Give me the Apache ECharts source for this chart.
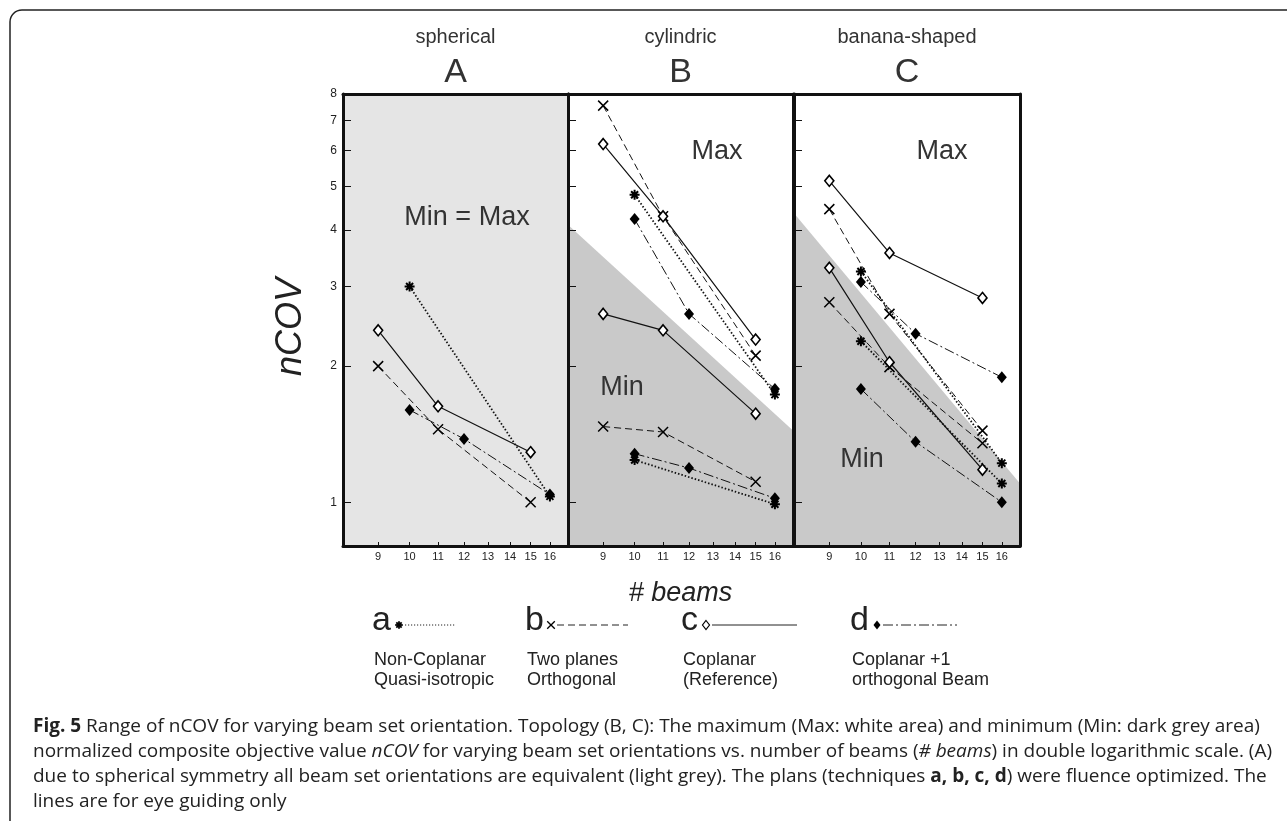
<!DOCTYPE html>
<html>
<head>
<meta charset="utf-8">
<script src="https://cdn.jsdelivr.net/npm/echarts@6/dist/echarts.min.js"></script>
<style>
html,body{margin:0;padding:0;background:#fff}
#chart{width:1287px;height:821px}
</style>
</head>
<body>
<div id="chart"></div>
<script>
// number of beams per technique
var beamsA=[10,16];        // a: non-coplanar quasi-isotropic
var beamsBC=[9,11,15];     // b: two planes, c: coplanar
var beamsD=[10,12,16];     // d: coplanar +1 orthogonal beam
var xTicks=[9,10,11,12,13,14,15,16];
var yTicks=[1,2,3,4,5,6,7,8];
var shadeX=[8,17];

// A spherical (min = max)
var aA=[3.0,1.03], bA=[2.0,1.45,1.0], cA=[2.4,1.63,1.29], dA=[1.6,1.38,1.04];
// B cylindric
var aBmax=[4.79,1.73], bBmax=[7.54,4.29,2.11], cBmax=[6.2,4.29,2.29], dBmax=[4.23,2.61,1.78];
var aBmin=[1.24,0.99], bBmin=[1.47,1.43,1.11], cBmin=[2.61,2.4,1.57], dBmin=[1.28,1.19,1.02];
// C banana-shaped
var aCmax=[3.24,1.22], bCmax=[4.45,2.61,1.44], cCmax=[5.14,3.56,2.83], dCmax=[3.07,2.36,1.89];
var aCmin=[2.27,1.10], bCmin=[2.77,1.99,1.35], cCmin=[3.30,2.04,1.18], dCmin=[1.78,1.36,1.0];
// border of the dark grey (min) area
var shadeB=[4.11,1.44], shadeC=[4.36,1.10];

var chart=echarts.init(document.getElementById('chart'));
var FONT='Liberation Sans';
var panels=[{left:343,width:225},{left:568,width:225},{left:794,width:226}];
var TOP=94, H=452;

var starPath='path://M5,0L5,10M0,5L10,5M1.5,1.5L8.5,8.5M8.5,1.5L1.5,8.5';
var crossPath='path://M0,0L10,10M10,0L0,10';
var tech={
    a:{symbol:starPath,size:10,item:{color:'#000',borderColor:'#000',borderWidth:2},line:{color:'#111',width:1.8,type:[1.5,2]}},
    b:{symbol:crossPath,size:10,item:{color:'#000',borderColor:'#000',borderWidth:1.5},line:{color:'#111',width:1,type:[7,4]}},
    c:{symbol:'diamond',size:[9,11],item:{color:'#fff',borderColor:'#000',borderWidth:1.6},line:{color:'#111',width:1.2,type:'solid'}},
    d:{symbol:'diamond',size:[10,12],item:{color:'#000',borderColor:'#000',borderWidth:0},line:{color:'#111',width:1,type:[10,3,2,3]}}
};
var beamsOf={a:beamsA,b:beamsBC,c:beamsBC,d:beamsD};

function pts(xs,ys){
    return xs.map(function(x,i){return [x,ys[i]];});
}
function ser(t,g,ys){
    var s=tech[t];
    return {type:'line',xAxisIndex:g*2,yAxisIndex:g*2,data:pts(beamsOf[t],ys),
        symbol:s.symbol,symbolSize:s.size,showAllSymbol:true,itemStyle:s.item,lineStyle:s.line,
        z:4,silent:true,clip:false};
}
function shade(g,ys){
    return {type:'line',xAxisIndex:g*2,yAxisIndex:g*2,data:pts(shadeX,ys),symbol:'none',
        lineStyle:{width:0},areaStyle:{color:'#c9c9c9',opacity:1,origin:'start'},z:1,silent:true};
}

function xAx(g,pos){
    var main=pos==='bottom';
    var o={type:'log',gridIndex:g,position:pos,min:8,max:17,z:10,
        axisLine:{show:true,onZero:false,lineStyle:{color:'#111',width:3}},
        axisTick:{show:main,inside:true,length:4,customValues:xTicks,lineStyle:{color:'#111',width:1}},
        axisLabel:{show:main,customValues:xTicks,fontSize:11,color:'#222',margin:5,fontFamily:FONT},
        splitLine:{show:false},minorTick:{show:false}};
    if(main&&g===1){
        o.name='# beams';o.nameLocation='middle';o.nameGap=34;
        o.nameTextStyle={fontSize:27,fontStyle:'italic',color:'#222',fontFamily:FONT};
    }
    return o;
}
function yAx(g,pos){
    var main=pos==='left';
    return {type:'log',gridIndex:g,position:pos,min:0.8,max:8,z:10,
        axisLine:{show:true,onZero:false,lineStyle:{color:'#111',width:3}},
        axisTick:{show:main,inside:true,length:8,customValues:yTicks,lineStyle:{color:'#111',width:1}},
        axisLabel:{show:main&&g===0,customValues:yTicks,fontSize:12,color:'#222',margin:6,fontFamily:FONT},
        splitLine:{show:false},minorTick:{show:false}};
}

var grids=panels.map(function(p,i){
    return {left:p.left,top:TOP,width:p.width,height:H,show:i===0,backgroundColor:'#e5e5e5',borderWidth:0};
});
var xAxes=[],yAxes=[];
for(var g=0;g<3;g++){
    xAxes.push(xAx(g,'bottom'));xAxes.push(xAx(g,'top'));
    yAxes.push(yAx(g,'left'));yAxes.push(yAx(g,'right'));
}

var series=[
    shade(1,shadeB),shade(2,shadeC),
    ser('a',0,aA),ser('b',0,bA),ser('c',0,cA),ser('d',0,dA),
    ser('a',1,aBmax),ser('b',1,bBmax),ser('c',1,cBmax),ser('d',1,dBmax),
    ser('a',1,aBmin),ser('b',1,bBmin),ser('c',1,cBmin),ser('d',1,dBmin),
    ser('a',2,aCmax),ser('b',2,bCmax),ser('c',2,cCmax),ser('d',2,dCmax),
    ser('a',2,aCmin),ser('b',2,bCmin),ser('c',2,cCmin),ser('d',2,dCmin)
];

// texts and legend
function txt(x,y,text,size,extra){
    var st={text:text,fontSize:size,fontFamily:FONT,fill:'#222',align:'center',verticalAlign:'middle'};
    for(var k in extra){st[k]=extra[k];}
    return {type:'text',x:x,y:y,style:st,z:20};
}
var graphic=[
    {type:'rect',shape:{x:10,y:10,width:1290,height:840,r:12},style:{fill:'none',stroke:'#222',lineWidth:1.5},z:0}
];
var names=['spherical','cylindric','banana-shaped'], letters=['A','B','C'];
panels.forEach(function(p,i){
    var cx=p.left+p.width/2;
    graphic.push(txt(cx,37,names[i],20,{fill:'#333'}));
    graphic.push(txt(cx,73,letters[i],34,{fill:'#333'}));
});
var nc=txt(291,327,'nCOV',36,{fontStyle:'italic'});
nc.rotation=Math.PI/2;
graphic.push(nc);
graphic.push(txt(467,218,'Min = Max',27,{fill:'#333'}));
graphic.push(txt(717,152,'Max',27,{fill:'#333'}));
graphic.push(txt(622,388,'Min',27,{fill:'#333'}));
graphic.push(txt(942,152,'Max',27,{fill:'#333'}));
graphic.push(txt(862,460,'Min',27,{fill:'#333'}));

var legendY=625;
var legendItems=[
    {key:'a',x:372,mk:399,line:[405,456],l1:'Non-Coplanar',l2:'Quasi-isotropic'},
    {key:'b',x:525,mk:551,line:[557,628],l1:'Two planes',l2:'Orthogonal'},
    {key:'c',x:681,mk:706,line:[712,797],l1:'Coplanar',l2:'(Reference)'},
    {key:'d',x:850,mk:877,line:[883,957],l1:'Coplanar +1',l2:'orthogonal Beam'}
];
function marker(key,cx,cy){
    var out=[],r=3.8;
    if(key==='a'){
        [[0,-1],[1,0],[0.7,0.7],[0.7,-0.7]].forEach(function(d){
            out.push({type:'line',shape:{x1:cx-d[0]*r,y1:cy-d[1]*r,x2:cx+d[0]*r,y2:cy+d[1]*r},style:{stroke:'#000',lineWidth:1.8},z:21});
        });
    }else if(key==='b'){
        [[1,1],[1,-1]].forEach(function(d){
            out.push({type:'line',shape:{x1:cx-d[0]*r,y1:cy-d[1]*r,x2:cx+d[0]*r,y2:cy+d[1]*r},style:{stroke:'#000',lineWidth:1.3},z:21});
        });
    }else{
        out.push({type:'polygon',shape:{points:[[cx,cy-4.5],[cx+3.5,cy],[cx,cy+4.5],[cx-3.5,cy]]},
            style:{fill:key==='c'?'#fff':'#000',stroke:'#000',lineWidth:key==='c'?1.2:0},z:21});
    }
    return out;
}
legendItems.forEach(function(it){
    var s=tech[it.key];
    graphic.push(txt(it.x,legendY-4,it.key,34,{align:'left'}));
    graphic.push({type:'line',shape:{x1:it.line[0],y1:legendY,x2:it.line[1],y2:legendY},
        style:{stroke:'#222',lineWidth:1,lineDash:s.line.type==='solid'?null:(it.key==='a'?[1.2,1.8]:s.line.type)},z:20});
    graphic=graphic.concat(marker(it.key,it.mk,legendY));
    graphic.push(txt(it.x+2,660,it.l1,18,{align:'left'}));
    graphic.push(txt(it.x+2,680,it.l2,18,{align:'left'}));
});

var capFont='Open Sans', capSize=19;
var rich={b:{fontWeight:'bold',fontSize:capSize,fontFamily:capFont,fill:'#222'},i:{fontStyle:'italic',fontSize:capSize,fontFamily:capFont,fill:'#222'}};
var caption=[
    '{b|Fig. 5} Range of nCOV for varying beam set orientation. Topology (B, C): The maximum (Max: white area) and minimum (Min: dark grey area)',
    'normalized composite objective value {i|nCOV} for varying beam set orientations vs. number of beams ({i|# beams}) in double logarithmic scale. (A)',
    'due to spherical symmetry all beam set orientations are equivalent (light grey). The plans (techniques {b|a, b, c, d}) were fluence optimized. The',
    'lines are for eye guiding only'
];
caption.forEach(function(line,i){
    graphic.push({type:'text',x:33,y:727+i*25,z:20,
        style:{text:line,rich:rich,fontSize:capSize,fontFamily:capFont,fill:'#222',align:'left',verticalAlign:'middle'}});
});

chart.setOption({
    animation:false,
    grid:grids,
    xAxis:xAxes,
    yAxis:yAxes,
    series:series,
    graphic:graphic
});
</script>
</body>
</html>
